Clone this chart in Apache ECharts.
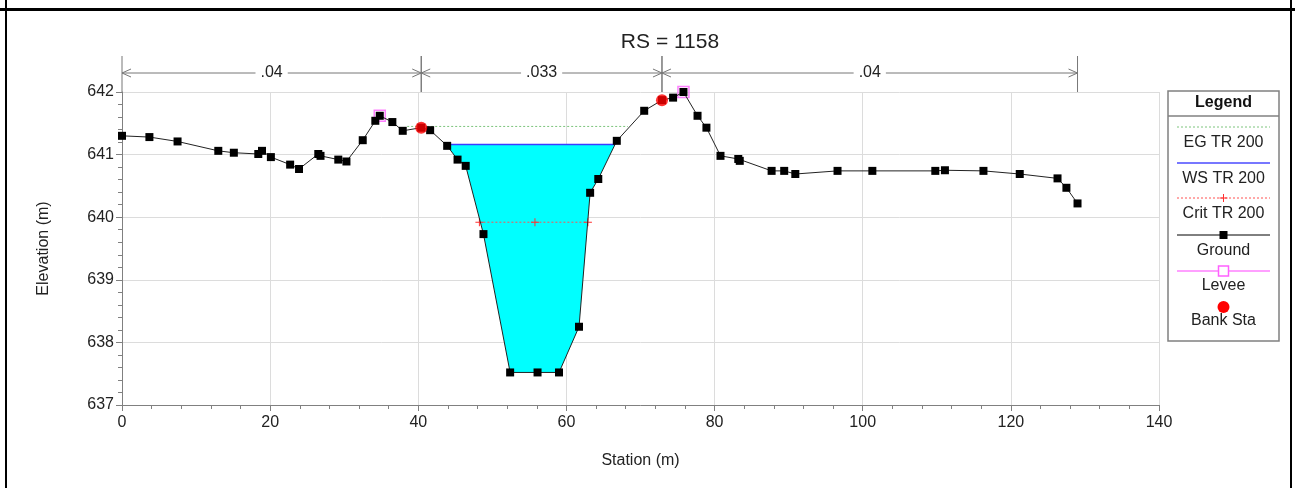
<!DOCTYPE html>
<html><head><meta charset="utf-8">
<script src="https://cdn.jsdelivr.net/npm/echarts@6/dist/echarts.min.js"></script>
<style>html,body{margin:0;padding:0;background:#fff}#c{width:1295px;height:488px}</style>
</head><body><div id="c"></div>
<script>
// ---------- data ----------
const groundStation = [0, 3.7, 7.5, 13.0, 15.1, 18.4, 18.9, 20.1, 22.7, 23.9, 26.5, 26.8, 29.2, 30.3, 32.5, 34.2, 34.8, 36.5, 37.9, 40.4, 41.6, 43.9, 45.3, 46.4, 48.8, 52.4, 56.1, 59.0, 61.7, 63.2, 64.3, 66.8, 70.5, 72.9, 74.4, 75.8, 77.7, 78.9, 80.8, 83.2, 83.4, 87.7, 89.4, 90.9, 96.6, 101.3, 109.8, 111.1, 116.3, 121.2, 126.3, 127.5, 129.0];
const groundElev = [641.30, 641.28, 641.21, 641.06, 641.03, 641.01, 641.06, 640.96, 640.84, 640.77, 641.01, 640.98, 640.92, 640.89, 641.23, 641.54, 641.62, 641.52, 641.38, 641.43, 641.39, 641.14, 640.92, 640.82, 639.73, 637.52, 637.52, 637.52, 638.25, 640.39, 640.61, 641.22, 641.70, 641.87, 641.91, 642.00, 641.62, 641.43, 640.98, 640.93, 640.90, 640.74, 640.74, 640.69, 640.74, 640.74, 640.74, 640.75, 640.74, 640.69, 640.62, 640.47, 640.22];
const egStations = [38.5, 68.3];
const egLevel = 641.45;
const wsStations = [43.7, 66.55];
const wsLevel = 641.16;
const critStations = [48.25, 55.75, 62.9];
const critLevel = 639.92;
const leveeStation = [34.8, 75.8];
const leveeElev = [641.62, 642.00];
const bankStation = [40.4, 72.9];
const bankElev = [641.43, 641.87];
const nBounds = [0, 40.4, 72.9, 129.0];
const nValues = ['.04', '.033', '.04'];
const xTicks = [0, 140, 20];   // min, max, interval
const yTicks = [637, 642, 1];
const titleText = 'RS = 1158';
const legendNames = ['EG TR 200', 'WS TR 200', 'Crit TR 200', 'Ground', 'Levee', 'Bank Sta'];

// ---------- build ----------
const FONT = "'Liberation Sans', Arial, sans-serif";
const zip = (a, b) => a.map((v, i) => [v, b[i]]);
const ground = zip(groundStation, groundElev);
const water = [[wsStations[0], wsLevel]]
  .concat(ground.filter(p => p[0] > wsStations[0] && p[0] < wsStations[1]))
  .concat([[wsStations[1], wsLevel]]);
const nSegs = nValues.map((v, i) => [nBounds[i], nBounds[i + 1]]);

const chart = echarts.init(document.getElementById('c'));
const axisGray = '#808080';
const crossPath = 'path://M-0.5,-4H0.5V-0.5H4V0.5H0.5V4H-0.5V0.5H-4V-0.5H-0.5Z';

const G = [];
// frame
G.push({type:'rect', shape:{x:0, y:8, width:1295, height:3}, style:{fill:'#000'}, silent:true});
G.push({type:'rect', shape:{x:5, y:0, width:2, height:488}, style:{fill:'#000'}, silent:true});
G.push({type:'rect', shape:{x:1290, y:0, width:2, height:488}, style:{fill:'#000'}, silent:true});
// legend box
const LX = 1168, LW = 111, LY = 91, LH = 250, cx = LX + LW / 2, l1 = 1177, l2 = 1270;
G.push({type:'rect', shape:{x:LX, y:LY, width:LW, height:LH}, style:{fill:'#fff', stroke:'#808080', lineWidth:1.5}});
G.push({type:'line', shape:{x1:LX, y1:116, x2:LX+LW, y2:116}, style:{stroke:'#808080', lineWidth:1.5}});
G.push({type:'text', x:cx, y:103, style:{text:'Legend', font:"bold 16px " + FONT, fill:'#111', align:'center', verticalAlign:'middle'}});
const iconY = [127, 163, 198, 235, 271, 307];
const textY = [143, 179, 214, 251, 286, 321];
legendNames.forEach((n, i) => {
  G.push({type:'text', x:cx, y:textY[i], style:{text:n, font:"16px " + FONT, fill:'#222', align:'center', verticalAlign:'middle'}});
});
G.push({type:'line', shape:{x1:l1, y1:iconY[0], x2:l2, y2:iconY[0]}, style:{stroke:'#7cc47c', lineWidth:1, lineDash:[2,2]}});
G.push({type:'line', shape:{x1:l1, y1:iconY[1], x2:l2, y2:iconY[1]}, style:{stroke:'#4a4aff', lineWidth:1.5}});
G.push({type:'line', shape:{x1:l1, y1:iconY[2], x2:l2, y2:iconY[2]}, style:{stroke:'#ff5050', lineWidth:1, lineDash:[2,2]}});
G.push({type:'line', shape:{x1:cx-4, y1:iconY[2], x2:cx+4, y2:iconY[2]}, style:{stroke:'#ff3030', lineWidth:1}});
G.push({type:'line', shape:{x1:cx, y1:iconY[2]-4, x2:cx, y2:iconY[2]+4}, style:{stroke:'#ff3030', lineWidth:1}});
G.push({type:'line', shape:{x1:l1, y1:iconY[3], x2:l2, y2:iconY[3]}, style:{stroke:'#000', lineWidth:1}});
G.push({type:'rect', shape:{x:cx-4, y:iconY[3]-4, width:8, height:8}, style:{fill:'#000'}});
G.push({type:'line', shape:{x1:l1, y1:iconY[4], x2:l2, y2:iconY[4]}, style:{stroke:'#ff80ff', lineWidth:1.5}});
G.push({type:'rect', shape:{x:cx-5, y:iconY[4]-5, width:10, height:10}, style:{fill:'#fff', stroke:'#ff60ff', lineWidth:1.5}});
G.push({type:'circle', shape:{cx:cx, cy:iconY[5], r:6}, style:{fill:'#ff0000'}});

const option = {
  animation: false,
  backgroundColor: '#fff',
  title: {text: titleText, left: 665, top: 27, textAlign: 'center',
    textStyle: {fontFamily: FONT, fontSize: 21, fontWeight: 'normal', color: '#222'}},
  grid: {left: 122, right: 136, top: 92, bottom: 83, containLabel: false},
  xAxis: {type:'value', min:xTicks[0], max:xTicks[1], interval:xTicks[2],
    name:'Station (m)', nameLocation:'middle', nameGap:48,
    nameTextStyle:{fontFamily:FONT, fontSize:16, color:'#222'},
    axisLine:{show:true, onZero:false, lineStyle:{color:axisGray}},
    axisTick:{show:true, inside:false, length:6, lineStyle:{color:axisGray}},
    minorTick:{show:true, splitNumber:5, length:4, lineStyle:{color:axisGray}},
    axisLabel:{fontFamily:FONT, fontSize:16, color:'#222', margin:10},
    splitLine:{show:true, lineStyle:{color:'#dcdcdc'}}},
  yAxis: {type:'value', min:yTicks[0], max:yTicks[1], interval:yTicks[2],
    name:'Elevation (m)', nameLocation:'middle', nameGap:70, nameRotate:90,
    nameTextStyle:{fontFamily:FONT, fontSize:16, color:'#222'},
    axisLine:{show:true, onZero:false, lineStyle:{color:axisGray}},
    axisTick:{show:true, inside:false, length:6, lineStyle:{color:axisGray}},
    minorTick:{show:true, splitNumber:5, length:4, lineStyle:{color:axisGray}},
    axisLabel:{fontFamily:FONT, fontSize:16, color:'#222', margin:8},
    splitLine:{show:true, lineStyle:{color:'#dcdcdc'}}},
  graphic: G,
  series: [
    {type:'custom', name:'water', coordinateSystem:'cartesian2d', z:1, silent:true,
      data:[water[0]],
      renderItem:(params, api) => ({type:'polygon', shape:{points: water.map(p => api.coord(p))},
        style:{fill:'#00ffff', stroke:'none'}})},
    {type:'line', name:legendNames[0], data: egStations.map(s => [s, egLevel]), z:3,
      symbol:'none', lineStyle:{color:'#7cc47c', width:1, type:[2,2]}},
    {type:'line', name:legendNames[1], data: wsStations.map(s => [s, wsLevel]), z:3,
      symbol:'none', lineStyle:{color:'#3c3cff', width:1.5}},
    {type:'line', name:legendNames[2], data: critStations.map(s => [s, critLevel]), z:3,
      symbol:crossPath, symbolSize:8, itemStyle:{color:'#ff3030'},
      lineStyle:{color:'#ff5050', width:1, type:[2,2]}},
    {type:'scatter', name:legendNames[4], data: zip(leveeStation, leveeElev), z:4,
      symbol:'rect', symbolSize:11, itemStyle:{color:'rgba(0,0,0,0)', borderColor:'#ff60ff', borderWidth:1.5}},
    {type:'line', name:legendNames[3], data: ground, z:5,
      symbol:'rect', symbolSize:8, showAllSymbol:true, itemStyle:{color:'#000'},
      lineStyle:{color:'#222', width:1}},
    {type:'scatter', name:legendNames[5], data: zip(bankStation, bankElev), z:6,
      symbol:'circle', symbolSize:12, itemStyle:{color:'#ff0000'}},
    {type:'custom', name:'n', coordinateSystem:'cartesian2d', clip:false, z:7, silent:true,
      data: nSegs,
      renderItem:(params, api) => {
        const x1 = api.coord([api.value(0), yTicks[1]])[0];
        const x2 = api.coord([api.value(1), yTicks[1]])[0];
        const yTop = api.coord([api.value(0), yTicks[1]])[1];
        const ly = yTop - 19;
        const st = {stroke:'#777', lineWidth:1, fill:null};
        return {type:'group', children:[
          {type:'line', shape:{x1:x1, y1:yTop-36, x2:x1, y2:yTop}, style:st},
          {type:'line', shape:{x1:x2, y1:yTop-36, x2:x2, y2:yTop}, style:st},
          {type:'line', shape:{x1:x1, y1:ly, x2:x2, y2:ly}, style:st},
          {type:'polyline', shape:{points:[[x1+9, ly-4],[x1, ly],[x1+9, ly+4]]}, style:st},
          {type:'polyline', shape:{points:[[x2-9, ly-4],[x2, ly],[x2-9, ly+4]]}, style:st},
          {type:'text', x:(x1+x2)/2, y:ly, style:{text:nValues[params.dataIndex], font:"16px " + FONT,
            fill:'#222', align:'center', verticalAlign:'middle', backgroundColor:'#fff', padding:[0,5]}}
        ]};
      }}
  ]
};
chart.setOption(option);
</script></body></html>
